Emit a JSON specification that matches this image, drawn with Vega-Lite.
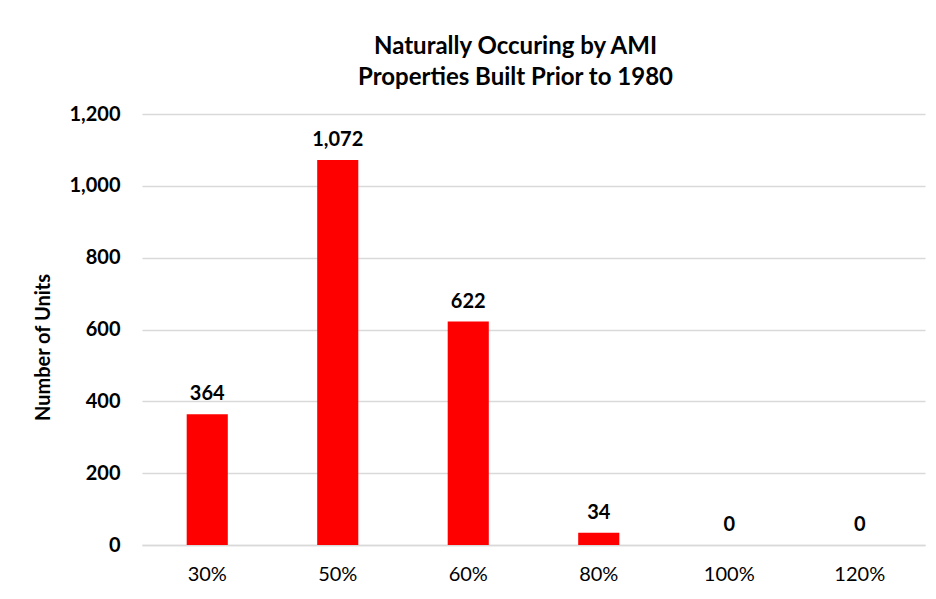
{
  "$schema": "https://vega.github.io/schema/vega-lite/v6.json",
  "width": 783,
  "height": 431,
  "autosize": {"type": "none"},
  "padding": {"left": 142, "top": 114, "right": 11, "bottom": 54},
  "background": "white",
  "title": {
    "text": ["Naturally Occuring by AMI", "Properties Built Prior to 1980"],
    "font": "Lato",
    "fontSize": 24,
    "fontWeight": "bold",
    "color": "#000000",
    "lineHeight": 31,
    "anchor": "middle",
    "frame": "group",
    "dx": -18,
    "offset": 14
  },
  "data": {
    "values": [
      {"ami": "30%", "units": 364},
      {"ami": "50%", "units": 1072},
      {"ami": "60%", "units": 622},
      {"ami": "80%", "units": 34},
      {"ami": "100%", "units": 0},
      {"ami": "120%", "units": 0}
    ]
  },
  "encoding": {
    "x": {
      "field": "ami",
      "type": "nominal",
      "sort": null,
      "scale": {"paddingInner": 0.685, "paddingOuter": 0.3425},
      "axis": {
        "title": null,
        "labelAngle": 0,
        "labelFont": "Lato",
        "labelFontSize": 20,
        "labelColor": "#000000",
        "labelPadding": 19,
        "ticks": false,
        "domain": true,
        "domainColor": "#d9d9d9",
        "domainWidth": 1.5
      }
    },
    "y": {
      "field": "units",
      "type": "quantitative",
      "scale": {"domain": [0, 1200]},
      "axis": {
        "values": [0, 200, 400, 600, 800, 1000, 1200],
        "format": ",.0f",
        "title": "Number of Units",
        "titleFont": "Lato",
        "titleFontSize": 20,
        "titleFontWeight": "bold",
        "titleColor": "#000000",
        "titleAngle": -90,
        "titleX": -99,
        "titleY": 233,
        "titleAlign": "center",
        "titleBaseline": "middle",
        "labelFont": "Lato",
        "labelFontSize": 20,
        "labelFontWeight": "bold",
        "labelColor": "#000000",
        "labelPadding": 22,
        "ticks": false,
        "domain": false,
        "grid": true,
        "gridColor": "#d9d9d9",
        "gridWidth": 1.5
      }
    }
  },
  "layer": [
    {"mark": {"type": "bar", "color": "#ff0000"}},
    {
      "mark": {
        "type": "text",
        "font": "Lato",
        "fontSize": 20,
        "fontWeight": "bold",
        "color": "#000000",
        "baseline": "alphabetic",
        "dy": -14
      },
      "encoding": {"text": {"field": "units", "format": ","}}
    }
  ],
  "config": {"view": {"stroke": null}}
}
